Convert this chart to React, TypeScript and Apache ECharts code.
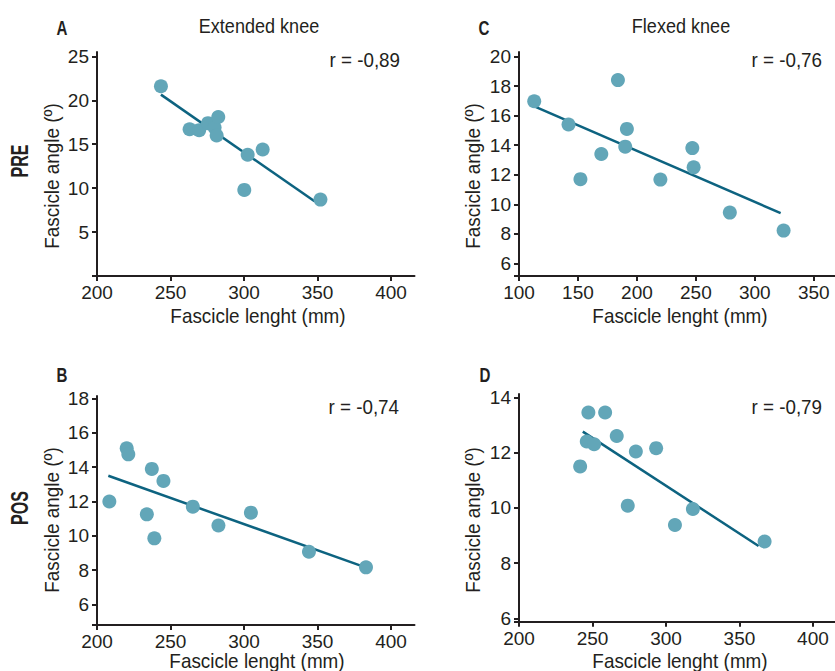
import React, { useEffect, useRef } from "react";
import * as echarts from "echarts";

// Panel A: PRE, extended knee
const lenA = [243.5, 263, 269.5, 275.5, 280, 282.5, 281.4, 302.5, 312.7, 300.2, 352];
const angA = [21.6, 16.7, 16.6, 17.4, 16.9, 18.1, 16.0, 13.8, 14.4, 9.8, 8.7];
const fitLenA = [243.5, 348];
const fitAngA = [20.65, 8.5];

// Panel C: PRE, flexed knee
const lenC = [112.9, 142, 183.9, 191.5, 190.1, 169.8, 152.1, 219.9, 247, 248.1, 278.8, 324.4];
const angC = [16.97, 15.4, 18.4, 15.1, 13.9, 13.4, 11.7, 11.67, 13.8, 12.5, 9.44, 8.22];
const fitLenC = [113.5, 321.9];
const fitAngC = [16.6, 9.4];

// Panel B: POS, extended knee
const lenB = [220.2, 221.3, 208.4, 237.3, 245.2, 233.9, 239, 265.2, 282.6, 304.7, 344.2, 383];
const angB = [15.1, 14.75, 12.0, 13.9, 13.2, 11.25, 9.85, 11.7, 10.6, 11.35, 9.07, 8.16];
const fitLenB = [207.7, 380.3];
const fitAngB = [13.5, 8.23];

// Panel D: POS, flexed knee
const lenD = [247.2, 258.6, 246.1, 251.1, 241.6, 266.5, 279.5, 293.3, 274, 306.1, 318.3, 367.1];
const angD = [13.45, 13.45, 12.4, 12.3, 11.5, 12.6, 12.04, 12.16, 10.08, 9.38, 9.96, 8.78];
const fitLenD = [243.4, 363];
const fitAngD = [12.76, 8.62];

const xTicksA = [200, 250, 300, 350, 400];
const xTicksC = [100, 150, 200, 250, 300, 350];
const yTicksA = [5, 10, 15, 20, 25];
const yTicksC = [6, 8, 10, 12, 14, 16, 18, 20];
const yTicksB = [6, 8, 10, 12, 14, 16, 18];
const yTicksD = [6, 8, 10, 12, 14];

const rLabels = ["r = -0,89", "r = -0,76", "r = -0,74", "r = -0,79"];
const colTitles = ["Extended knee", "Flexed knee"];
const rowTitles = ["PRE", "POS"];
const panelLetters = ["A", "C", "B", "D"];
const xTitle = "Fascicle lenght (mm)";
const yTitle = "Fascicle angle (º)";

const FONT = '"Liberation Sans", Arial, Helvetica, sans-serif';
const AXIS = "#231f20";
const DOT = "#62a6b8";
const LINE = "#0d6380";

function zip(a: number[], b: number[]) {
  return a.map((v, i) => [v, b[i]]);
}

export default function App() {
  const ref = useRef<HTMLDivElement>(null);
  useEffect(() => {
    if (!ref.current) return;
    const chart = echarts.init(ref.current, undefined, { renderer: "svg" });

    const grids = [
      { left: 97, top: 52, width: 317.5, height: 224 },
      { left: 519, top: 52, width: 316, height: 224 },
      { left: 97, top: 396, width: 317.5, height: 229 },
      { left: 519, top: 394, width: 316, height: 227.7 },
    ];
    const xCfg = [
      { min: 200, max: 416, ticks: xTicksA },
      { min: 100, max: 368, ticks: xTicksC },
      { min: 200, max: 416, ticks: xTicksA },
      { min: 200, max: 415, ticks: xTicksA },
    ];
    const yCfg = [
      { min: 0, max: 25.5, ticks: yTicksA },
      { min: 5.15, max: 20.3, ticks: yTicksC },
      { min: 4.8, max: 18.15, ticks: yTicksB },
      { min: 5.88, max: 14.12, ticks: yTicksD },
    ];
    const pts = [zip(lenA, angA), zip(lenC, angC), zip(lenB, angB), zip(lenD, angD)];
    const fits = [zip(fitLenA, fitAngA), zip(fitLenC, fitAngC), zip(fitLenB, fitAngB), zip(fitLenD, fitAngD)];

    const axisCommon = {
      axisLine: { show: true, lineStyle: { color: AXIS, width: 2 } },
      axisTick: { show: true, length: 5, lineStyle: { color: AXIS, width: 2 } },
      splitLine: { show: false },
    };

    const xAxis = xCfg.map((c, i) => ({
      type: "value",
      gridIndex: i,
      min: c.min,
      max: c.max,
      ...axisCommon,
      axisTick: { ...axisCommon.axisTick, customValues: c.ticks },
      axisLabel: { customValues: c.ticks, color: AXIS, fontFamily: FONT, fontSize: 19, margin: 7, lineHeight: 19 },
    }));
    const yAxis = yCfg.map((c, i) => ({
      type: "value",
      gridIndex: i,
      min: c.min,
      max: c.max,
      ...axisCommon,
      axisTick: { ...axisCommon.axisTick, customValues: [c.min, ...c.ticks] },
      axisLabel: { customValues: c.ticks, color: AXIS, fontFamily: FONT, fontSize: 19, margin: 8, lineHeight: 19 },
    }));

    const series: any[] = [];
    for (let i = 0; i < 4; i++) {
      series.push({
        type: "line",
        xAxisIndex: i,
        yAxisIndex: i,
        data: fits[i],
        showSymbol: false,
        symbol: "none",
        lineStyle: { color: LINE, width: 2.5 },
        z: 2,
      });
      series.push({
        type: "scatter",
        xAxisIndex: i,
        yAxisIndex: i,
        data: pts[i],
        symbolSize: 14,
        itemStyle: { color: DOT, opacity: 1 },
        z: 3,
      });
    }

    const txt = (text: string, x: number, y: number, opts: any = {}) => ({
      type: "text",
      x,
      y,
      rotation: opts.rotation || 0,
      scaleX: opts.scaleX || 0.88,
      style: {
        text,
        fill: opts.fill || AXIS,
        font: `${opts.weight || "normal"} ${opts.size || 21}px ${FONT}`,
        textAlign: opts.align || "center",
        textVerticalAlign: "middle",
      },
    });

    const bold = { weight: "bold", size: 21, scaleX: 0.72 };
    const rowOpt = { rotation: Math.PI / 2, weight: "bold", size: 23, scaleX: 0.7 };

    const graphic: any[] = [
      txt(colTitles[0], 259, 25, { scaleX: 0.86 }),
      txt(colTitles[1], 681, 25, { scaleX: 0.86 }),
      txt(rowTitles[0], 20, 161, rowOpt),
      txt(rowTitles[1], 20, 508, rowOpt),
      txt(panelLetters[0], 62, 28, bold),
      txt(panelLetters[1], 484, 28, bold),
      txt(panelLetters[2], 62, 375, bold),
      txt(panelLetters[3], 485, 375, bold),
      txt(rLabels[0], 400, 60, { align: "right", scaleX: 0.94, size: 20 }),
      txt(rLabels[1], 822, 60, { align: "right", scaleX: 0.94, size: 20 }),
      txt(rLabels[2], 399, 407, { align: "right", scaleX: 0.94, size: 20 }),
      txt(rLabels[3], 822, 407, { align: "right", scaleX: 0.94, size: 20 }),
      txt(xTitle, 258, 316, { scaleX: 0.9 }),
      txt(xTitle, 680, 316, { scaleX: 0.9 }),
      txt(xTitle, 257, 661, { scaleX: 0.9 }),
      txt(xTitle, 680, 661, { scaleX: 0.9 }),
      txt(yTitle, 52, 176, { rotation: Math.PI / 2, scaleX: 0.9 }),
      txt(yTitle, 473, 176, { rotation: Math.PI / 2, scaleX: 0.9 }),
      txt(yTitle, 52, 520, { rotation: Math.PI / 2, scaleX: 0.9 }),
      txt(yTitle, 473, 520, { rotation: Math.PI / 2, scaleX: 0.9 }),
    ];

    chart.setOption({
      animation: false,
      backgroundColor: "#ffffff",
      grid: grids,
      xAxis,
      yAxis,
      series,
      graphic,
    });
    return () => chart.dispose();
  }, []);

  return <div ref={ref} style={{ width: 835, height: 671, position: "absolute", left: 0, top: 0 }} />;
}
